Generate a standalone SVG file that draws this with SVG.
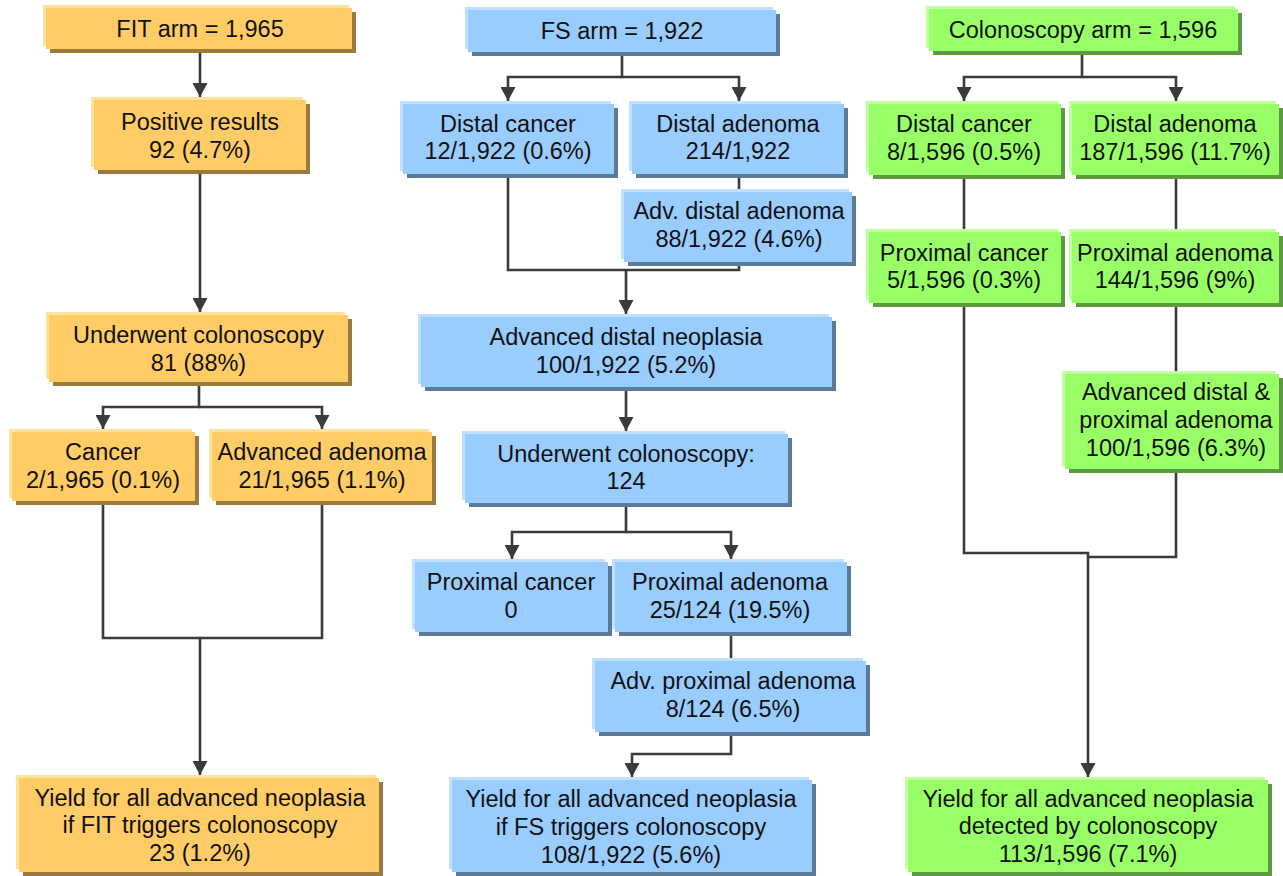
<svg xmlns="http://www.w3.org/2000/svg" width="1283" height="876" viewBox="0 0 1283 876">
<style>
text{font-family:"Liberation Sans",Arial,sans-serif;font-size:23.5px;fill:#111;text-anchor:middle}
.o .hl{fill:#FFE29E}.o .sh{fill:#9A7A3E}.o .m{fill:#FFCC66}
.b .hl{fill:#BFE0FF}.b .sh{fill:#5A7A98}.b .m{fill:#99CCFF}
.g .hl{fill:#C2FFA0}.g .sh{fill:#5E9A42}.g .m{fill:#99FF66}
#connectors path{fill:none;stroke:#3b3b3b;stroke-width:2.6}
#connectors path.a{marker-end:url(#arr)}
</style>
<defs>
<marker id="arr" markerUnits="userSpaceOnUse" viewBox="0 0 14 15" markerWidth="14" markerHeight="15" refX="14" refY="7.5" orient="auto">
<path d="M0,0 L14,7.5 L0,15 z" fill="#3b3b3b"/>
</marker>
</defs>
<rect width="1283" height="876" fill="#fff"/>

<g id="connectors">
<path class="a" d="M200,49 V97"/>
<path class="a" d="M200,170 V312"/>
<path class="a" d="M199,382 V407 H103 V429"/>
<path class="a" d="M199,407 H322 V429"/>
<path d="M103,501 V638 H322 V501"/>
<path class="a" d="M200,638 V775"/>

<path class="a" d="M622,52 V77 H508 V101"/>
<path class="a" d="M622,77 H739 V101"/>
<path d="M508,174 V270 H739 V262"/>
<path d="M739,174 V192"/>
<path class="a" d="M626,270 V314"/>
<path class="a" d="M626,387 V431"/>
<path class="a" d="M626,503 V532 H512 V559"/>
<path class="a" d="M626,532 H731 V559"/>
<path d="M731,632 V661"/>
<path class="a" d="M731,732 V754 H632 V777"/>

<path class="a" d="M1082,51 V77 H964 V101"/>
<path class="a" d="M1082,77 H1176 V101"/>
<path d="M964,175 V232"/>
<path d="M1176,175 V232"/>
<path d="M1176,303 V374"/>
<path class="a" d="M964,303 V553 H1088 V777"/>
<path d="M1176,469 V557 H1088"/>
</g>

<g id="fit-arm" class="o"><rect class="hl" x="43" y="5" width="306" height="41"/><rect class="sh" x="50" y="12" width="306" height="41"/><rect class="m" x="46" y="8" width="306" height="41"/><text x="200" y="37">FIT arm = 1,965</text></g>
<g id="fit-positive" class="o"><rect class="hl" x="91" y="97" width="212" height="70"/><rect class="sh" x="98" y="104" width="212" height="70"/><rect class="m" x="94" y="100" width="212" height="70"/><text x="200" y="130">Positive results</text><text x="200" y="158">92 (4.7%)</text></g>
<g id="fit-underwent" class="o"><rect class="hl" x="46" y="312" width="299" height="67"/><rect class="sh" x="53" y="319" width="299" height="67"/><rect class="m" x="49" y="315" width="299" height="67"/><text x="198.5" y="343">Underwent colonoscopy</text><text x="198.5" y="371">81 (88%)</text></g>
<g id="fit-cancer" class="o"><rect class="hl" x="9" y="429" width="183" height="69"/><rect class="sh" x="16" y="436" width="183" height="69"/><rect class="m" x="12" y="432" width="183" height="69"/><text x="103" y="460">Cancer</text><text x="103" y="488">2/1,965 (0.1%)</text></g>
<g id="fit-adv-adenoma" class="o"><rect class="hl" x="209" y="429" width="220" height="69"/><rect class="sh" x="216" y="436" width="220" height="69"/><rect class="m" x="212" y="432" width="220" height="69"/><text x="322" y="460">Advanced adenoma</text><text x="322" y="488">21/1,965 (1.1%)</text></g>
<g id="fit-yield" class="o"><rect class="hl" x="16" y="775" width="360" height="94"/><rect class="sh" x="23" y="782" width="360" height="94"/><rect class="m" x="19" y="778" width="360" height="94"/><text x="200" y="806">Yield for all advanced neoplasia</text><text x="200" y="833">if FIT triggers colonoscopy</text><text x="200" y="861">23 (1.2%)</text></g>

<g id="fs-arm" class="b"><rect class="hl" x="465" y="7" width="308" height="42"/><rect class="sh" x="472" y="14" width="308" height="42"/><rect class="m" x="468" y="10" width="308" height="42"/><text x="622" y="39">FS arm = 1,922</text></g>
<g id="fs-distal-cancer" class="b"><rect class="hl" x="400" y="101" width="211" height="70"/><rect class="sh" x="407" y="108" width="211" height="70"/><rect class="m" x="403" y="104" width="211" height="70"/><text x="508" y="132">Distal cancer</text><text x="508" y="159">12/1,922 (0.6%)</text></g>
<g id="fs-distal-adenoma" class="b"><rect class="hl" x="629" y="101" width="212" height="70"/><rect class="sh" x="636" y="108" width="212" height="70"/><rect class="m" x="632" y="104" width="212" height="70"/><text x="738" y="132">Distal adenoma</text><text x="738" y="159">214/1,922</text></g>
<g id="fs-adv-distal-adenoma" class="b"><rect class="hl" x="621" y="189" width="228" height="70"/><rect class="sh" x="628" y="196" width="228" height="70"/><rect class="m" x="624" y="192" width="228" height="70"/><text x="739" y="219">Adv. distal adenoma</text><text x="739" y="247">88/1,922 (4.6%)</text></g>
<g id="fs-adv-distal-neoplasia" class="b"><rect class="hl" x="418" y="314" width="411" height="70"/><rect class="sh" x="425" y="321" width="411" height="70"/><rect class="m" x="421" y="317" width="411" height="70"/><text x="626" y="345">Advanced distal neoplasia</text><text x="626" y="373">100/1,922 (5.2%)</text></g>
<g id="fs-underwent" class="b"><rect class="hl" x="462" y="431" width="323" height="69"/><rect class="sh" x="469" y="438" width="323" height="69"/><rect class="m" x="465" y="434" width="323" height="69"/><text x="626" y="462">Underwent colonoscopy:</text><text x="626" y="489">124</text></g>
<g id="fs-proximal-cancer" class="b"><rect class="hl" x="412" y="559" width="193" height="70"/><rect class="sh" x="419" y="566" width="193" height="70"/><rect class="m" x="415" y="562" width="193" height="70"/><text x="511" y="590">Proximal cancer</text><text x="511" y="618">0</text></g>
<g id="fs-proximal-adenoma" class="b"><rect class="hl" x="612" y="559" width="232" height="70"/><rect class="sh" x="619" y="566" width="232" height="70"/><rect class="m" x="615" y="562" width="232" height="70"/><text x="730" y="590">Proximal adenoma</text><text x="730" y="618">25/124 (19.5%)</text></g>
<g id="fs-adv-proximal-adenoma" class="b"><rect class="hl" x="592" y="658" width="271" height="71"/><rect class="sh" x="599" y="665" width="271" height="71"/><rect class="m" x="595" y="661" width="271" height="71"/><text x="733" y="689">Adv. proximal adenoma</text><text x="733" y="717">8/124 (6.5%)</text></g>
<g id="fs-yield" class="b"><rect class="hl" x="449" y="777" width="360" height="92"/><rect class="sh" x="456" y="784" width="360" height="92"/><rect class="m" x="452" y="780" width="360" height="92"/><text x="631" y="807">Yield for all advanced neoplasia</text><text x="631" y="835">if FS triggers colonoscopy</text><text x="631" y="863">108/1,922 (5.6%)</text></g>

<g id="col-arm" class="g"><rect class="hl" x="926" y="6" width="309" height="42"/><rect class="sh" x="933" y="13" width="309" height="42"/><rect class="m" x="929" y="9" width="309" height="42"/><text x="1083" y="38">Colonoscopy arm = 1,596</text></g>
<g id="col-distal-cancer" class="g"><rect class="hl" x="866" y="101" width="192" height="71"/><rect class="sh" x="873" y="108" width="192" height="71"/><rect class="m" x="869" y="104" width="192" height="71"/><text x="964" y="132">Distal cancer</text><text x="964" y="160">8/1,596 (0.5%)</text></g>
<g id="col-distal-adenoma" class="g"><rect class="hl" x="1069" y="101" width="207" height="71"/><rect class="sh" x="1076" y="108" width="207" height="71"/><rect class="m" x="1072" y="104" width="207" height="71"/><text x="1175" y="132">Distal adenoma</text><text x="1175" y="160">187/1,596 (11.7%)</text></g>
<g id="col-proximal-cancer" class="g"><rect class="hl" x="866" y="229" width="192" height="71"/><rect class="sh" x="873" y="236" width="192" height="71"/><rect class="m" x="869" y="232" width="192" height="71"/><text x="964" y="261">Proximal cancer</text><text x="964" y="288">5/1,596 (0.3%)</text></g>
<g id="col-proximal-adenoma" class="g"><rect class="hl" x="1069" y="229" width="207" height="71"/><rect class="sh" x="1076" y="236" width="207" height="71"/><rect class="m" x="1072" y="232" width="207" height="71"/><text x="1175" y="261">Proximal adenoma</text><text x="1175" y="288">144/1,596 (9%)</text></g>
<g id="col-adv-adenoma" class="g"><rect class="hl" x="1062" y="371" width="214" height="95"/><rect class="sh" x="1069" y="378" width="214" height="95"/><rect class="m" x="1065" y="374" width="214" height="95"/><text x="1176" y="400">Advanced distal &amp;</text><text x="1176" y="428">proximal adenoma</text><text x="1176" y="456">100/1,596 (6.3%)</text></g>
<g id="col-yield" class="g"><rect class="hl" x="905" y="777" width="360" height="92"/><rect class="sh" x="912" y="784" width="360" height="92"/><rect class="m" x="908" y="780" width="360" height="92"/><text x="1088" y="807">Yield for all advanced neoplasia</text><text x="1088" y="834">detected by colonoscopy</text><text x="1088" y="862">113/1,596 (7.1%)</text></g>
</svg>
